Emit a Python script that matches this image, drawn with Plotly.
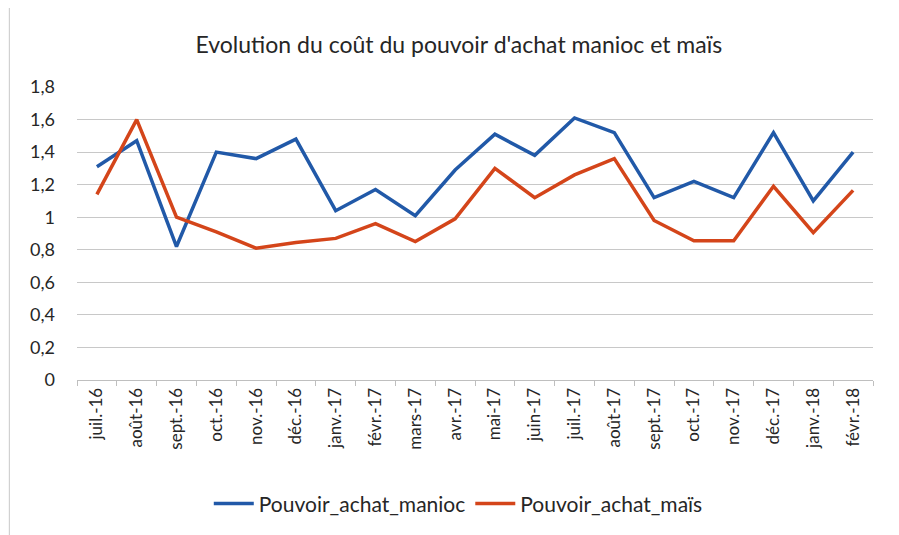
import plotly.graph_objects as go

months = ["juil.-16", "août-16", "sept.-16", "oct.-16", "nov.-16", "déc.-16",
          "janv.-17", "févr.-17", "mars-17", "avr.-17", "mai-17", "juin-17",
          "juil.-17", "août-17", "sept.-17", "oct.-17", "nov.-17", "déc.-17",
          "janv.-18", "févr.-18"]
manioc = [1.31, 1.47, 0.82, 1.40, 1.36, 1.48, 1.04, 1.17, 1.01, 1.29,
          1.51, 1.38, 1.61, 1.52, 1.12, 1.22, 1.12, 1.52, 1.10, 1.40]
mais = [1.14, 1.60, 1.00, 0.91, 0.81, 0.845, 0.87, 0.96, 0.85, 0.99,
        1.30, 1.12, 1.26, 1.36, 0.98, 0.855, 0.855, 1.19, 0.905, 1.165]
y_ticks = [0, 0.2, 0.4, 0.6, 0.8, 1.0, 1.2, 1.4, 1.6, 1.8]

FONT = "Lato"
TXT = "#262626"
fig = go.Figure()
fig.add_trace(go.Scatter(x=months, y=manioc, mode="lines", name="Pouvoir_achat_manioc",
                         line=dict(color="#2159A8", width=3.5)))
fig.add_trace(go.Scatter(x=months, y=mais, mode="lines", name="Pouvoir_achat_maïs",
                         line=dict(color="#D4451A", width=3.5)))

fig.update_layout(
    width=891, height=527,
    margin=dict(l=69, r=26, t=79, b=154),
    paper_bgcolor="white", plot_bgcolor="white",
    separators=", ",
    font=dict(family=FONT, color=TXT),
    title=dict(text="Evolution du coût du pouvoir d'achat manioc et maïs",
               x=0.506, xanchor="center", y=0.93, yanchor="middle",
               font=dict(size=23, color=TXT, family=FONT)),
    showlegend=True,
    legend=dict(orientation="h", x=0.479, xanchor="center", y=-0.418, yanchor="middle",
                font=dict(size=21, color=TXT, family=FONT), itemwidth=40,
                bgcolor="rgba(0,0,0,0)"),
    xaxis=dict(type="category", range=[-0.5, len(months) - 0.5], automargin=False,
               tickangle=-90, tickson="boundaries",
               ticks="outside", ticklen=5, tickcolor="#bfbfbf",
               showline=True, linecolor="#bfbfbf", linewidth=1,
               showgrid=False, tickfont=dict(size=17, color=TXT, family=FONT)),
    yaxis=dict(range=[0, 1.8], tickvals=y_ticks, showgrid=True, gridcolor="#c8c8c8",
               automargin=False,
               gridwidth=1, zeroline=False, showline=False, ticks="",
               ticklabelstandoff=21,
               tickfont=dict(size=18, color=TXT, family=FONT)),
)
fig.add_shape(type="line", xref="paper", yref="paper", x0=-0.085, x1=-0.085,
              y0=-0.53, y1=1.3, line=dict(color="#c8c8c8", width=1))
fig.write_html("out.html")
